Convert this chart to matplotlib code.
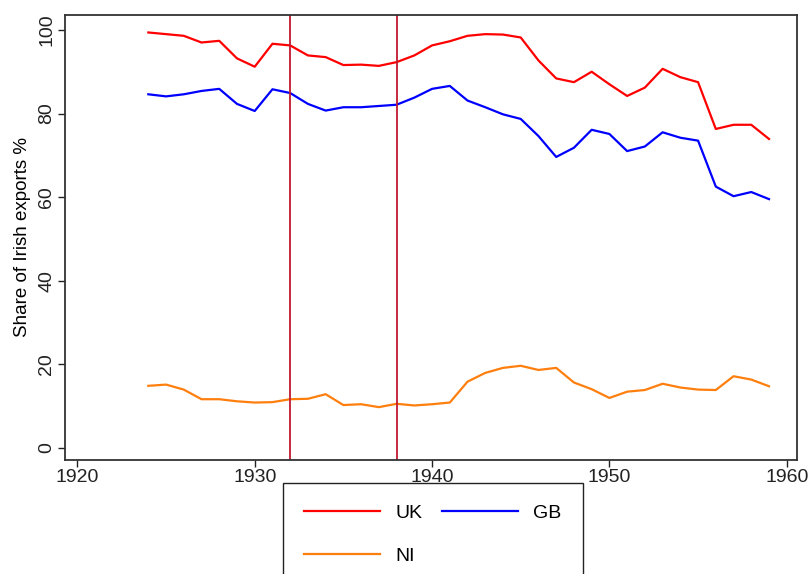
import numpy as np
import matplotlib
matplotlib.use("Agg")
import matplotlib.pyplot as plt

plt.rcParams['font.family'] = ['Liberation Sans', 'DejaVu Sans']

# years and export shares
years = list(range(1924, 1960))
uk = [99.4, 99.0, 98.6, 97.0, 97.4, 93.2, 91.2, 96.7, 96.3, 93.9,
      93.5, 91.6, 91.7, 91.4, 92.3, 93.9, 96.3, 97.3, 98.6, 99.0,
      98.9, 98.2, 92.7, 88.4, 87.5, 90.0, 87.0, 84.2, 86.2, 90.7,
      88.7, 87.5, 76.3, 77.3, 77.3, 73.9]
gb = [84.6, 84.1, 84.6, 85.4, 85.9, 82.3, 80.6, 85.8, 84.9, 82.3,
      80.7, 81.5, 81.5, 81.8, 82.1, 83.8, 85.9, 86.6, 83.1, 81.5,
      79.8, 78.7, 74.6, 69.6, 71.8, 76.1, 75.1, 71.0, 72.1, 75.5,
      74.2, 73.5, 62.5, 60.2, 61.2, 59.5]
ni = [14.8, 15.1, 13.9, 11.6, 11.6, 11.1, 10.8, 10.9, 11.6, 11.7,
      12.8, 10.2, 10.4, 9.7, 10.5, 10.1, 10.4, 10.8, 15.8, 17.9,
      19.1, 19.6, 18.6, 19.1, 15.6, 14.0, 11.9, 13.4, 13.8, 15.3,
      14.4, 13.9, 13.8, 17.1, 16.3, 14.7]
events = [1932, 1938]
xticks = [1920, 1930, 1940, 1950, 1960]
yticks = [0, 20, 40, 60, 80, 100]

fig = plt.figure(figsize=(8.12, 5.74), dpi=100)
ax = fig.add_axes([0.080, 0.199, 0.902, 0.775])

l_uk, = ax.plot(years, uk, color='#ff0000', lw=1.6, label='UK')
l_gb, = ax.plot(years, gb, color='#0000ff', lw=1.6, label='GB')
l_ni, = ax.plot(years, ni, color='#ff7f0e', lw=1.6, label='NI')
for e in events:
    ax.axvline(e, color='#c01830', lw=1.3)

ax.set_xlim(1919.3, 1960.6)
ax.set_ylim(-2.9, 103.6)
ax.set_xticks(xticks)
ax.set_yticks(yticks)
ax.tick_params(direction='out', length=5, width=1, pad=2, labelsize=14, colors='#222222')
for lab in ax.get_yticklabels():
    lab.set_rotation(90)
    lab.set_va('center')
ax.set_ylabel('Share of Irish exports %', fontsize=13.5, labelpad=5)
for s in ax.spines.values():
    s.set_color('#333333')
    s.set_linewidth(1.3)

# column-wise fill: UK / NI in first column, GB in second
leg = fig.legend([l_uk, l_ni, l_gb], ['UK', 'NI', 'GB'], loc='upper center',
                 bbox_to_anchor=(0.533, 0.175), ncol=2,
                 fontsize=14, handlelength=3.9, labelspacing=1.3,
                 columnspacing=1.0, handletextpad=0.8, borderpad=1.1,
                 fancybox=False, framealpha=1, edgecolor='#222222')
leg.get_frame().set_linewidth(1.0)

fig.savefig('out.png', dpi=100)
